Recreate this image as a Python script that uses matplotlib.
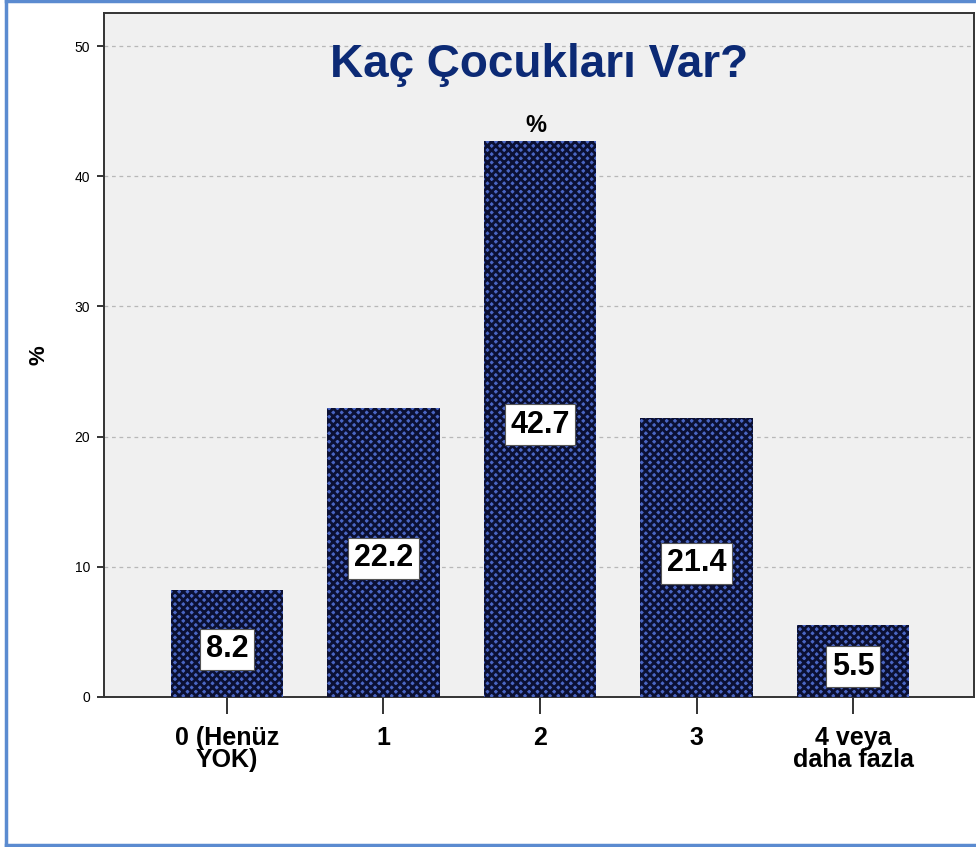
import matplotlib.pyplot as plt
from matplotlib.lines import Line2D

# Daten
kategorien = ['0 (Henüz\nYOK)', '1', '2', '3', '4 veya\ndaha fazla']
prozent = [8.2, 22.2, 42.7, 21.4, 5.5]
y_ticks = [0, 10, 20, 30, 40, 50]

plt.rcParams['font.family'] = ['Liberation Sans', 'DejaVu Sans']
plt.rcParams['hatch.linewidth'] = 2.0

fig = plt.figure(figsize=(9.76, 8.47), dpi=100)
ax = fig.add_axes([0.1066, 0.1771, 0.891, 0.808])
ax.set_facecolor('#f0f0f0')

x = range(len(kategorien))
bars = ax.bar(x, prozent, width=0.72, color='#4a66c4', edgecolor='#0b1033',
              hatch='xxxx', linewidth=0, zorder=3)

# Werte in die Balken schreiben
for b, v in zip(bars, prozent):
    ax.annotate(f'{v:.1f}', xy=(b.get_x() + b.get_width() / 2, v / 2),
                xytext=(0, -4), textcoords='offset points',
                ha='center', va='center', fontsize=22, fontweight='bold',
                color='black', zorder=5,
                bbox=dict(boxstyle='square,pad=0.18', facecolor='white',
                          edgecolor='#555555', linewidth=0.8))

ax.annotate('%', xy=(2, max(prozent)), xytext=(-3, 3), textcoords='offset points',
            ha='center', va='bottom', fontsize=17, fontweight='bold', zorder=5)

ax.set_xlim(-0.785, 4.77)
ax.set_ylim(0, 52.57)
ax.set_yticks(y_ticks)
ax.set_xticks(list(x))
ax.set_xticklabels(kategorien, fontsize=18, fontweight='bold', linespacing=0.88)
ax.tick_params(axis='x', length=12, width=1.4, pad=9, color='#333333')
ax.tick_params(axis='y', length=5, width=1.4, pad=5, labelsize=10, color='#333333')

ax.grid(axis='y', color='#b8b8b8', linestyle=(0, (3, 3)), linewidth=0.9, zorder=1)
ax.set_axisbelow(True)

for s in ax.spines.values():
    s.set_color('#333333')
    s.set_linewidth(1.4)

ax.set_ylabel('%', fontsize=16, fontweight='bold', labelpad=18)

ax.text(0.5, 0.923, 'Kaç Çocukları Var?', transform=ax.transAxes,
        ha='center', va='center', fontsize=33, fontweight='bold', color='#0c2a75')

# blauer Rahmen
rahmen = '#5b8bd0'
fig.add_artist(Line2D([6 / 976, 6 / 976], [0.5 / 847, 1 - 1 / 847], color=rahmen,
                      linewidth=2.5, transform=fig.transFigure))
fig.add_artist(Line2D([6 / 976, 1], [1 - 1.5 / 847, 1 - 1.5 / 847], color=rahmen,
                      linewidth=2.5, transform=fig.transFigure))
fig.add_artist(Line2D([6 / 976, 1], [2.5 / 847, 2.5 / 847], color=rahmen,
                      linewidth=2.5, transform=fig.transFigure))

plt.savefig('out.png', dpi=100)
